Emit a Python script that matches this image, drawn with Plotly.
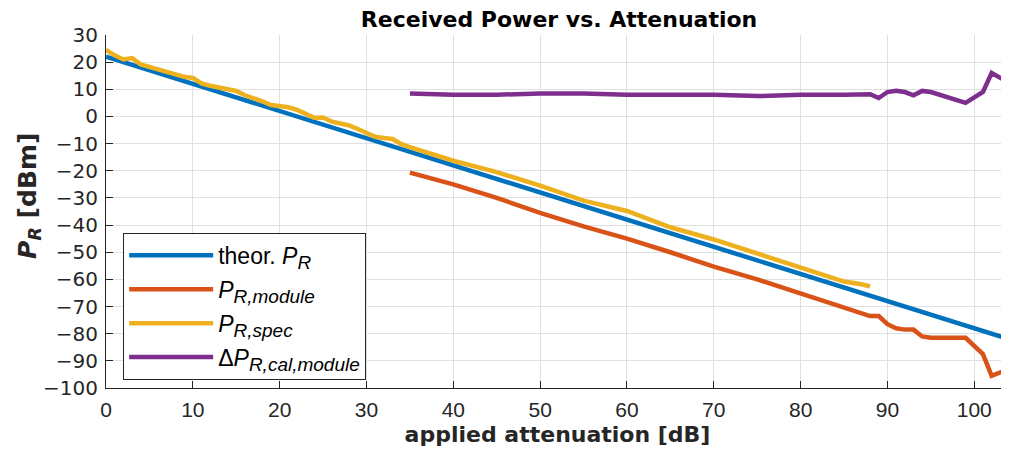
import plotly.graph_objects as go

# ---- data ----
att_theor = [0, 10, 20, 30, 40, 50, 60, 70, 80, 90, 100, 104]
p_theor = [22, 12, 2, -8, -18, -28, -38, -48, -58, -68, -78, -82]

att_module = [35, 40, 45, 50, 55, 60, 65, 70, 75, 80, 85, 88, 89, 90, 91, 92, 93, 94, 95, 99, 101, 102, 104]
p_module = [-20.7, -25, -30, -35.5, -40.5, -45, -50, -55.3, -60, -65.3, -70.5, -73.5, -73.5, -76.5, -78,
            -78.5, -78.5, -81, -81.5, -81.5, -87.5, -95.5, -93]

att_spec = list(range(0, 36)) + [40, 45, 50, 55, 60, 65, 70, 75, 80, 85, 87, 88]
p_spec = [24.5, 22.5, 21, 21.5, 19.2, 18.2, 17.2, 16.3, 15.3, 14.6, 14.2, 12.2, 11.3, 10.6, 10.1, 9.4,
          7.8, 6.8, 5.6, 4.2, 3.9, 3.4, 2.4, 1.0, -0.5, -0.4, -1.9, -2.6, -3.3, -4.6, -6.0, -7.5, -7.9,
          -8.3, -10.2, -11.3, -16.3, -20.5, -25.5, -31.0, -34.8, -40.8, -45.3, -50.5, -55.6, -60.8,
          -61.8, -62.6]

att_delta = [35, 40, 45, 50, 55, 60, 65, 70, 75, 80, 85, 88, 89, 90, 91, 92, 93, 94, 95, 99, 101, 102, 104]
p_delta = [8.5, 8, 8, 8.5, 8.5, 8, 8, 8, 7.5, 8, 8, 8.2, 6.8, 9, 9.5, 9, 7.8, 9.4, 9, 5, 9, 16, 12.4]

x_ticks = list(range(0, 101, 10))
y_ticks = list(range(-100, 31, 10))

SUB = "<sub><span style='font-size:19px'><i>{}</i></span></sub>"
names = ["theor. <i>P</i>" + SUB.format("R"),
         "<i>P</i>" + SUB.format("R,module"),
         "<i>P</i>" + SUB.format("R,spec"),
         "Δ<i>P</i>" + SUB.format("R,cal,module")]
colors = ["#0072BD", "#D95319", "#EDB120", "#7E2F8E"]

FONT = "Liberation Sans, Arial, sans-serif"
WIDE = "DejaVu Sans, sans-serif"
TXT = "#262626"

fig = go.Figure()
for i, (xs, ys, nm, c) in enumerate([(att_theor, p_theor, names[0], colors[0]),
                                     (att_module, p_module, names[1], colors[1]),
                                     (att_spec, p_spec, names[2], colors[2]),
                                     (att_delta, p_delta, names[3], colors[3])]):
    fig.add_trace(go.Scatter(x=xs, y=ys, mode="lines", name=nm, legendgroup=f"g{i}",
                             line=dict(color=c, width=4.5)))

fig.update_layout(
    width=1001, height=448,
    margin=dict(l=98, r=0, t=27, b=68),
    paper_bgcolor="white", plot_bgcolor="white",
    font=dict(family=FONT, color=TXT, size=19),
    title=dict(text="<b>Received Power vs. Attenuation</b>", x=0.5505, xanchor="center",
               xref="container", y=0.975, yanchor="middle",
               font=dict(family=WIDE, size=22, color="black")),
    showlegend=True,
    legend=dict(x=0.019, y=0.023, xanchor="left", yanchor="bottom",
                bgcolor="white", bordercolor="#262626", borderwidth=1,
                font=dict(family=FONT, size=23, color="black"), itemwidth=84,
                tracegroupgap=1),
    annotations=[dict(text="<b><i>P</i><sub><i>R</i></sub> [dBm]</b>", textangle=-90,
                      xref="paper", yref="paper", x=-0.0853, y=0.544,
                      xanchor="center", yanchor="middle", showarrow=False,
                      font=dict(family=WIDE, size=25, color=TXT))],
)
fig.update_xaxes(range=[0, 104], tickvals=x_ticks, ticks="inside", ticklen=7, tickcolor=TXT,
                 showline=True, linecolor=TXT, linewidth=1, mirror=False, automargin=False,
                 showgrid=True, gridcolor="#e0e0e0", gridwidth=1, zeroline=False,
                 tickfont=dict(family=FONT, size=21, color=TXT), ticklabelstandoff=3,
                 title=dict(text="<b>applied attenuation [dB]</b>",
                            font=dict(family=WIDE, size=22, color=TXT), standoff=6))
fig.update_yaxes(range=[-100, 30], tickvals=y_ticks, ticks="inside", ticklen=7, tickcolor=TXT,
                 showline=True, linecolor=TXT, linewidth=1, mirror=False, automargin=False,
                 showgrid=True, gridcolor="#e0e0e0", gridwidth=1, zeroline=False,
                 tickfont=dict(family=WIDE, size=20, color=TXT), ticklabelstandoff=3)

fig.write_html("out.html")
